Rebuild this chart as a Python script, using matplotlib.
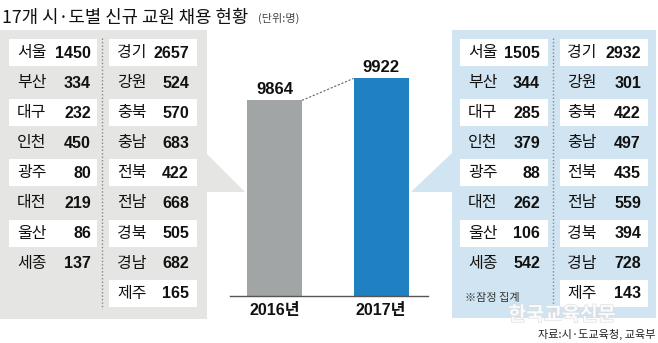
import matplotlib.pyplot as plt
import matplotlib.patheffects as pe
from matplotlib.patches import Rectangle, Polygon

plt.rcParams['font.family'] = ['Noto Sans CJK KR', 'DejaVu Sans']

# 시·도별 신규 교원 채용 (단위: 명)
regions_a = ['서울', '부산', '대구', '인천', '광주', '대전', '울산', '세종']
regions_b = ['경기', '강원', '충북', '충남', '전북', '전남', '경북', '경남', '제주']
hire_2016_a = [1450, 334, 232, 450, 80, 219, 86, 137]
hire_2016_b = [2657, 524, 570, 683, 422, 668, 505, 682, 165]
hire_2017_a = [1505, 344, 285, 379, 88, 262, 106, 542]
hire_2017_b = [2932, 301, 422, 497, 435, 559, 394, 728, 143]
years = ['2016년', '2017년']
totals = [sum(hire_2016_a) + sum(hire_2016_b), sum(hire_2017_a) + sum(hire_2017_b)]

GRAY_BG = '#e5e5e3'
BLUE_BG = '#d0e4f1'
GRAY_BAR = '#a2a5a6'
BLUE_BAR = '#1f80c2'
KR = ['Noto Sans CJK KR', 'DejaVu Sans']
NUM = ['Liberation Sans', 'Noto Sans CJK KR']

fig = plt.figure(figsize=(6.58, 3.43), dpi=100)
bg = fig.add_axes([0, 0, 1, 1])
bg.set_xlim(0, 658)
bg.set_ylim(343, 0)
bg.axis('off')

bg.text(2, 18, '17개 시·도별 신규 교원 채용 현황', family=KR, fontweight='medium',
        fontsize=12.8, va='center', ha='left', color='#111')
bg.text(258, 18, '(단위:명)', family=KR, fontsize=8,
        va='center', ha='left', color='#444')

# 좌우 패널 + 화살표
bg.add_patch(Rectangle((0, 30), 207, 289, color=GRAY_BG, lw=0))
bg.add_patch(Polygon([(206, 153), (245, 192), (206, 192)], closed=True, color=GRAY_BG, lw=0))
bg.add_patch(Rectangle((452, 30), 204, 288, color=BLUE_BG, lw=0))
bg.add_patch(Polygon([(453, 152), (411, 192), (453, 192)], closed=True, color=BLUE_BG, lw=0))


def draw_table(names, vals, box_x0, box_x1, name_x, num_x, n_white):
    for i, (nm, v) in enumerate(zip(names, vals)):
        yc = 52.5 + 30.1 * i
        if i % 2 == 0 or i == n_white:
            bg.add_patch(Rectangle((box_x0, yc - 13.5), box_x1 - box_x0, 27,
                                   color='white', lw=0))
        bg.text(name_x, yc, nm, family=KR, fontsize=11.5, fontweight='medium',
                ha='left', va='center', color='#111')
        bg.text(num_x, yc + 0.5, f'{v}', family=NUM, fontsize=11.5, fontweight='bold',
                ha='right', va='center', color='#111')


draw_table(regions_a, hire_2016_a, 9, 97, 17, 91, -1)
draw_table(regions_b, hire_2016_b, 109, 197, 117, 189, 8)
draw_table(regions_a, hire_2017_a, 460, 548, 468, 540, -1)
draw_table(regions_b, hire_2017_b, 560, 648, 567, 641, 8)

for sx in (102, 553):
    bg.plot([sx, sx], [38, 309], ls=(0, (1, 1.5)), color='#888', lw=1)

bg.text(465, 298, '※잠정 집계', family=KR, fontsize=8, ha='left', va='center', color='#333')
bg.text(562, 315, '한국교육신문', family=KR, fontsize=14, fontweight='bold', ha='center',
        va='center', color='white', alpha=0.8,
        path_effects=[pe.withStroke(linewidth=1, foreground='#dadada')])
bg.text(655, 334, '자료:시·도교육청, 교육부', family=KR, fontsize=8, ha='right',
        va='center', color='#222')

# 막대 그래프
ax = fig.add_axes([230 / 658, 1 - 296 / 343, 198 / 658, 266 / 343])
ax.set_xlim(-0.418, 1.441)
ax.set_ylim(9347, 10050)
ax.patch.set_alpha(0)
ax.bar([0, 1], totals, width=0.516, color=[GRAY_BAR, BLUE_BAR], bottom=0)
ax.plot([0.258, 1 - 0.258], totals, ls=(0, (2, 1.5)), color='#666', lw=0.8)
for x, t in zip([0, 1], totals):
    ax.text(x, t + 8, f'{t}', family=NUM, fontsize=12, fontweight='bold',
            ha='center', va='bottom', color='#111')
for side in ('top', 'right', 'left'):
    ax.spines[side].set_visible(False)
ax.spines['bottom'].set_color('#555')
ax.spines['bottom'].set_linewidth(1)
ax.set_yticks([])
ax.set_xticks([0, 1])
ax.set_xticklabels(years, family=NUM, fontsize=11.5, fontweight='bold', color='#111')
ax.tick_params(axis='x', length=0, pad=5)

fig.savefig('out.png', dpi=100)
